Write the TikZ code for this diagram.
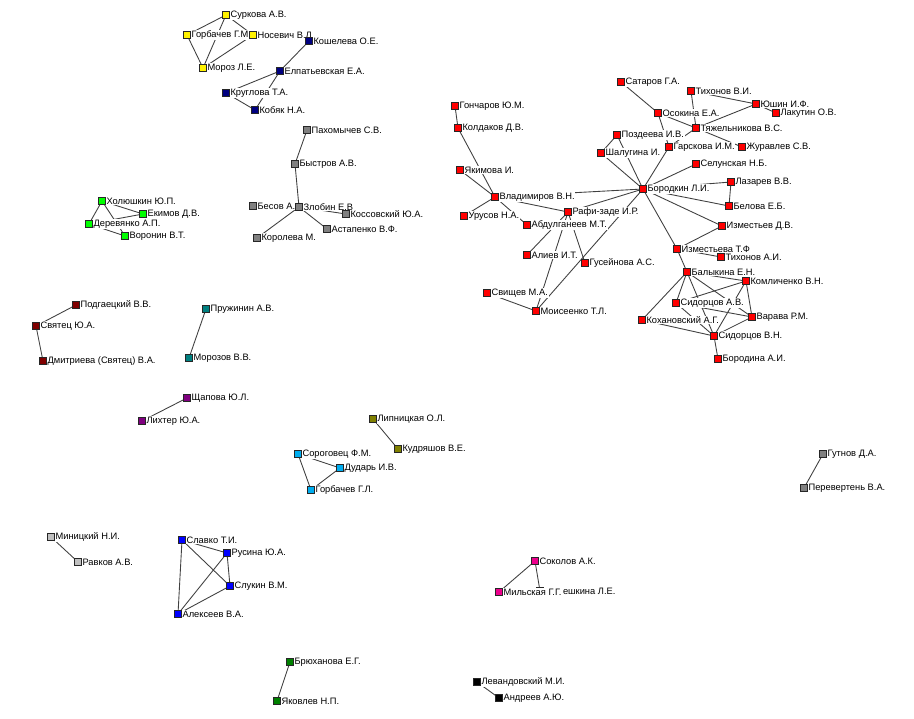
\documentclass[tikz,border=0pt]{standalone}
\usepackage{fontspec}
\setmainfont{Liberation Sans}
\usetikzlibrary{backgrounds}
\definecolor{navyc}{RGB}{0,0,128}
\definecolor{grayc}{RGB}{128,128,128}
\definecolor{limec}{RGB}{0,255,0}
\definecolor{maroonc}{RGB}{128,0,0}
\definecolor{tealc}{RGB}{0,128,128}
\definecolor{purplec}{RGB}{128,0,128}
\definecolor{olivec}{RGB}{128,128,0}
\definecolor{silverc}{RGB}{192,192,192}
\definecolor{greenc}{RGB}{0,128,0}
\begin{document}
\begin{tikzpicture}[x=0.02cm, y=-0.02cm, every node/.style={font=\fontsize{5.3}{6}\selectfont},
  every label/.style={fill=white,inner sep=0.4pt}, label distance=0pt]
  \tikzstyle{v}=[draw=black!85,rectangle,minimum size=0.13cm,inner sep=0pt,line width=0.3pt]
  \tikzstyle{e}=[draw=black!75,line width=0.5pt]
  \useasboundingbox (0,0) rectangle (914,719);
  % yellow group
  \node[v,fill=yellow,label={right:Суркова А.В.}] (surk) at (226,15) {};
  \node[v,fill=yellow,label={right:Горбачев Г.М}] (gorbgm) at (187,35) {};
  \node[v,fill=yellow,label={right:Носевич В.Л.}] (nosev) at (253,35) {};
  \node[v,fill=yellow,label={right:Мороз Л.Е.}] (moroz) at (203,68) {};
  % navy group
  \node[v,fill=navyc,label={right:Кошелева О.Е.}] (koshel) at (309,41) {};
  \node[v,fill=navyc,label={right:Елпатьевская Е.А.}] (elpat) at (280,71) {};
  \node[v,fill=navyc,label={right:Круглова Т.А.}] (krugl) at (226,93) {};
  \node[v,fill=navyc,label={right:Кобяк Н.А.}] (kobyak) at (255,110) {};
  % gray group
  \node[v,fill=grayc,label={right:Пахомычев С.В.}] (pahom) at (307,130) {};
  \node[v,fill=grayc,label={right:Быстров А.В.}] (bystr) at (295,164) {};
  \node[v,fill=grayc,label={right:Бесов А.}] (besov) at (253,206) {};
  \node[v,fill=grayc,label={right:Злобин Е.В}] (zlob) at (299,207) {};
  \node[v,fill=grayc,label={right:Коссовский Ю.А.}] (kossov) at (346,214) {};
  \node[v,fill=grayc,label={right:Астапенко В.Ф.}] (astap) at (327,229) {};
  \node[v,fill=grayc,label={right:Королева М.}] (korol) at (257,238) {};
  % lime group
  \node[v,fill=limec,label={right:Холюшкин Ю.П.}] (holush) at (102,201) {};
  \node[v,fill=limec,label={right:Екимов Д.В.}] (ekimov) at (143,214) {};
  \node[v,fill=limec,label={right:Деревянко А.П.}] (derev) at (89,224) {};
  \node[v,fill=limec,label={right:Воронин В.Т.}] (voron) at (125,236) {};
  % small groups
  \node[v,fill=maroonc,label={right:Подгаецкий В.В.}] (podg) at (76,305) {};
  \node[v,fill=maroonc,label={right:Святец Ю.А.}] (svyat) at (36,326) {};
  \node[v,fill=maroonc,label={right:Дмитриева (Святец) В.А.}] (dmitr) at (43,361) {};
  \node[v,fill=tealc,label={right:Пружинин А.В.}] (pruzh) at (206,309) {};
  \node[v,fill=tealc,label={right:Морозов В.В.}] (morozov) at (189,358) {};
  \node[v,fill=purplec,label={right:Щапова Ю.Л.}] (shchap) at (187,398) {};
  \node[v,fill=purplec,label={right:Лихтер Ю.А.}] (liht) at (142,421) {};
  \node[v,fill=olivec,label={right:Липницкая О.Л.}] (lipn) at (373,419) {};
  \node[v,fill=olivec,label={right:Кудряшов В.Е.}] (kudr) at (398,449) {};
  \node[v,fill=cyan,label={right:Сороговец Ф.М.}] (sorog) at (298,454) {};
  \node[v,fill=cyan,label={right:Дударь И.В.}] (dudar) at (340,468) {};
  \node[v,fill=cyan,label={right:Горбачев Г.Л.}] (gorbgl) at (311,490) {};
  \node[v,fill=silverc,label={right:Миницкий Н.И.}] (minic) at (51,537) {};
  \node[v,fill=silverc,label={right:Равков А.В.}] (ravk) at (78,562) {};
  \node[v,fill=blue,label={right:Славко Т.И.}] (slavko) at (182,540) {};
  \node[v,fill=blue,label={right:Русина Ю.А.}] (rusina) at (227,553) {};
  \node[v,fill=blue,label={right:Слукин В.М.}] (slukin) at (230,586) {};
  \node[v,fill=blue,label={right:Алексеев В.А.}] (alekseev) at (178,614) {};
  \node[v,fill=greenc,label={right:Брюханова Е.Г.}] (bryuh) at (290,662) {};
  \node[v,fill=greenc,label={right:Яковлев Н.П.}] (yakovl) at (277,701) {};
  \node[v,fill=magenta,label={right:Соколов А.К.}] (sokol) at (535,561) {};
  \node[v,fill=magenta,label={[xshift=0.37cm]right:ешкина Л.Е.}] (alesh) at (540,591) {};
  \node[v,fill=magenta,label={right:Мильская Г.Г.}] (milsk) at (499,592) {};
  \node[v,fill=black,label={right:Левандовский М.И.}] (levand) at (477,682) {};
  \node[v,fill=black,label={right:Андреев А.Ю.}] (andreev) at (499,698) {};
  \node[v,fill=grayc,label={right:Гутнов Д.А.}] (gutnov) at (823,454) {};
  \node[v,fill=grayc,label={right:Перевертень В.А.}] (perev) at (804,488) {};
  % red group
  \node[v,fill=red,label={right:Сатаров Г.А.}] (satar) at (621,82) {};
  \node[v,fill=red,label={right:Тихонов В.И.}] (tihvi) at (691,91) {};
  \node[v,fill=red,label={right:Юшин И.Ф.}] (yushin) at (756,104) {};
  \node[v,fill=red,label={right:Лакутин О.В.}] (lakut) at (776,113) {};
  \node[v,fill=red,label={right:Осокина Е.А.}] (osok) at (658,113) {};
  \node[v,fill=red,label={right:Тяжельникова В.С.}] (tyazh) at (696,128) {};
  \node[v,fill=red,label={right:Поздеева И.В.}] (pozd) at (617,135) {};
  \node[v,fill=red,label={right:Шалугина И.}] (shal) at (601,153) {};
  \node[v,fill=red,label={right:Гарскова И.М.}] (garsk) at (669,147) {};
  \node[v,fill=red,label={right:Журавлев С.В.}] (zhur) at (742,147) {};
  \node[v,fill=red,label={right:Селунская Н.Б.}] (selun) at (696,164) {};
  \node[v,fill=red,label={right:Лазарев В.В.}] (lazar) at (731,182) {};
  \node[v,fill=red,label={right:Бородкин Л.И.}] (borod) at (643,189) {};
  \node[v,fill=red,label={right:Белова Е.Б.}] (belova) at (729,206) {};
  \node[v,fill=red,label={right:Изместьев Д.В.}] (izmdv) at (722,226) {};
  \node[v,fill=red,label={right:Гончаров Ю.М.}] (gonch) at (455,106) {};
  \node[v,fill=red,label={right:Колдаков Д.В.}] (kold) at (458,128) {};
  \node[v,fill=red,label={right:Якимова И.}] (yakim) at (460,170) {};
  \node[v,fill=red,label={right:Владимиров В.Н.}] (vlad) at (495,197) {};
  \node[v,fill=red,label={right:Урусов Н.А.}] (urus) at (464,216) {};
  \node[v,fill=red,label={right:Рафи-заде И.Р.}] (rafi) at (568,212) {};
  \node[v,fill=red,label={right:Абдулганеев М.Т.}] (abdul) at (527,225) {};
  \node[v,fill=red,label={right:Алиев И.Т.}] (aliev) at (527,255) {};
  \node[v,fill=red,label={right:Гусейнова А.С.}] (gusein) at (585,263) {};
  \node[v,fill=red,label={right:Свищев М.А.}] (svish) at (487,293) {};
  \node[v,fill=red,label={right:Моисеенко Т.Л.}] (mois) at (536,311) {};
  \node[v,fill=red,label={right:Изместьева Т.Ф}] (izmtf) at (677,249) {};
  \node[v,fill=red,label={right:Тихонов А.И.}] (tihai) at (721,257) {};
  \node[v,fill=red,label={right:Балыкина Е.Н.}] (balyk) at (687,272) {};
  \node[v,fill=red,label={right:Комличенко В.Н.}] (koml) at (746,281) {};
  \node[v,fill=red,label={right:Сидорцов А.В.}] (sidav) at (676,303) {};
  \node[v,fill=red,label={right:Кохановский А.Г.}] (kohan) at (642,320) {};
  \node[v,fill=red,label={right:Варава Р.М.}] (varava) at (752,317) {};
  \node[v,fill=red,label={right:Сидорцов В.Н.}] (sidvn) at (714,336) {};
  \node[v,fill=red,label={right:Бородина А.И.}] (borodina) at (718,359) {};
  % links
  \begin{scope}[on background layer]
  \draw[e] (surk) -- (gorbgm); \draw[e] (surk) -- (nosev); \draw[e] (surk) -- (moroz);
  \draw[e] (gorbgm) -- (moroz); \draw[e] (nosev) -- (moroz);
  \draw[e] (koshel) -- (elpat); \draw[e] (elpat) -- (krugl); \draw[e] (elpat) -- (kobyak); \draw[e] (krugl) -- (kobyak);
  \draw[e] (pahom) -- (bystr); \draw[e] (bystr) -- (zlob); \draw[e] (besov) -- (zlob);
  \draw[e] (zlob) -- (kossov); \draw[e] (zlob) -- (astap); \draw[e] (zlob) -- (korol);
  \draw[e] (holush) -- (ekimov); \draw[e] (holush) -- (derev); \draw[e] (holush) -- (voron);
  \draw[e] (derev) -- (voron); \draw[e] (derev) -- (ekimov);
  \draw[e] (podg) -- (svyat); \draw[e] (svyat) -- (dmitr); \draw[e] (pruzh) -- (morozov);
  \draw[e] (shchap) -- (liht); \draw[e] (lipn) -- (kudr);
  \draw[e] (sorog) -- (dudar); \draw[e] (sorog) -- (gorbgl); \draw[e] (dudar) -- (gorbgl);
  \draw[e] (minic) -- (ravk);
  \draw[e] (slavko) -- (rusina); \draw[e] (slavko) -- (slukin); \draw[e] (slavko) -- (alekseev);
  \draw[e] (rusina) -- (slukin); \draw[e] (rusina) -- (alekseev); \draw[e] (slukin) -- (alekseev);
  \draw[e] (bryuh) -- (yakovl); \draw[e] (sokol) -- (milsk); \draw[e] (sokol) -- (alesh);
  \draw[e] (levand) -- (andreev); \draw[e] (gutnov) -- (perev);
  \draw[e] (satar) -- (osok); \draw[e] (tihvi) -- (tyazh); \draw[e] (tihvi) -- (yushin);
  \draw[e] (yushin) -- (lakut); \draw[e] (yushin) -- (tyazh); \draw[e] (osok) -- (tyazh);
  \draw[e] (osok) -- (garsk); \draw[e] (tyazh) -- (garsk); \draw[e] (tyazh) -- (zhur);
  \draw[e] (pozd) -- (shal); \draw[e] (pozd) -- (borod); \draw[e] (shal) -- (borod);
  \draw[e] (garsk) -- (borod); \draw[e] (selun) -- (borod); \draw[e] (lazar) -- (borod);
  \draw[e] (lazar) -- (belova); \draw[e] (borod) -- (belova); \draw[e] (borod) -- (izmdv);
  \draw[e] (borod) -- (izmtf); \draw[e] (borod) -- (mois); \draw[e] (borod) -- (rafi);
  \draw[e] (borod) -- (vlad);
  \draw[e] (gonch) -- (kold); \draw[e] (kold) -- (vlad); \draw[e] (yakim) -- (vlad);
  \draw[e] (urus) -- (vlad); \draw[e] (vlad) -- (abdul); \draw[e] (vlad) -- (rafi);
  \draw[e] (rafi) -- (aliev); \draw[e] (rafi) -- (mois); \draw[e] (rafi) -- (gusein);
  \draw[e] (svish) -- (mois);
  \draw[e] (izmtf) -- (izmdv); \draw[e] (izmtf) -- (tihai); \draw[e] (izmtf) -- (balyk);
  \draw[e] (balyk) -- (koml); \draw[e] (balyk) -- (kohan); \draw[e] (balyk) -- (sidav);
  \draw[e] (balyk) -- (varava); \draw[e] (balyk) -- (sidvn);
  \draw[e] (koml) -- (sidav); \draw[e] (koml) -- (varava); \draw[e] (koml) -- (sidvn);
  \draw[e] (sidav) -- (varava); \draw[e] (sidav) -- (sidvn); \draw[e] (kohan) -- (sidvn);
  \draw[e] (varava) -- (sidvn); \draw[e] (sidvn) -- (borodina);
  \end{scope}
\end{tikzpicture}
\end{document}
